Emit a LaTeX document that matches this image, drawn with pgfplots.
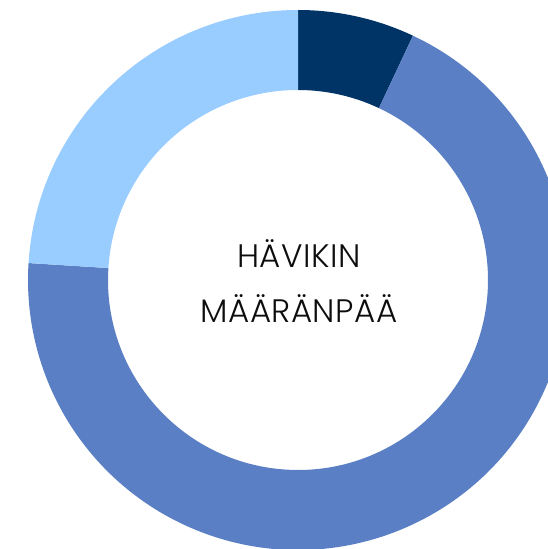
\documentclass[border=0pt]{standalone}
\usepackage{fontspec}
\setmainfont{Poppins}[UprightFont=* Light, LetterSpace=1.5]
\usepackage{pgfplots}
\usepackage{pgfplotstable}
\pgfplotsset{compat=1.18}
\definecolor{cDark}{HTML}{003366}
\definecolor{cMid}{HTML}{5B7FC4}
\definecolor{cLight}{HTML}{99CCFF}
\pgfplotstableread{
name value
Dark 7.0
Medium 69.0
Light 24.0
}\donutdata
\pgfplotstablegetelem{0}{value}\of\donutdata \let\va\pgfplotsretval
\pgfplotstablegetelem{1}{value}\of\donutdata \let\vb\pgfplotsretval
\pgfplotstablegetelem{2}{value}\of\donutdata \let\vc\pgfplotsretval
\pgfmathsetmacro\aA{90}
\pgfmathsetmacro\aB{90-3.6*\va}
\pgfmathsetmacro\aC{\aB-3.6*\vb}
\pgfmathsetmacro\aD{\aC-3.6*\vc}
\def\Ro{270}
\def\Ri{190}
\pgfmathsetmacro\xAo{\Ro*cos(\aA)}\pgfmathsetmacro\yAo{\Ro*sin(\aA)}
\pgfmathsetmacro\xBo{\Ro*cos(\aB)}\pgfmathsetmacro\yBo{\Ro*sin(\aB)}
\pgfmathsetmacro\xCo{\Ro*cos(\aC)}\pgfmathsetmacro\yCo{\Ro*sin(\aC)}
\pgfmathsetmacro\xBi{\Ri*cos(\aB)}\pgfmathsetmacro\yBi{\Ri*sin(\aB)}
\pgfmathsetmacro\xCi{\Ri*cos(\aC)}\pgfmathsetmacro\yCi{\Ri*sin(\aC)}
\pgfmathsetmacro\xDi{\Ri*cos(\aD)}\pgfmathsetmacro\yDi{\Ri*sin(\aD)}
\begin{document}
\begin{tikzpicture}
\begin{axis}[
  hide axis, x=1pt, y=1pt,
  xmin=-298, xmax=250, ymin=-269, ymax=280,
  clip=true,
]
\addplot[draw=none] coordinates {(0,0)};
\fill[cDark] (axis cs:\xAo,\yAo) arc[start angle=\aA, end angle=\aB, radius=\Ro pt]
  -- (axis cs:\xBi,\yBi) arc[start angle=\aB, end angle=\aA, radius=\Ri pt] -- cycle;
\fill[cMid] (axis cs:\xBo,\yBo) arc[start angle=\aB, end angle=\aC, radius=\Ro pt]
  -- (axis cs:\xCi,\yCi) arc[start angle=\aC, end angle=\aB, radius=\Ri pt] -- cycle;
\fill[cLight] (axis cs:\xCo,\yCo) arc[start angle=\aC, end angle=\aD, radius=\Ro pt]
  -- (axis cs:\xDi,\yDi) arc[start angle=\aD, end angle=\aC, radius=\Ri pt] -- cycle;
\node[align=center, font=\fontsize{32.5}{55}\selectfont, text=black!95] at (axis cs:1,-1) {HÄVIKIN\\MÄÄRÄNPÄÄ};
\end{axis}
\pgfresetboundingbox
\path[use as bounding box] (current axis.south west) rectangle (current axis.north east);
\end{tikzpicture}
\end{document}
